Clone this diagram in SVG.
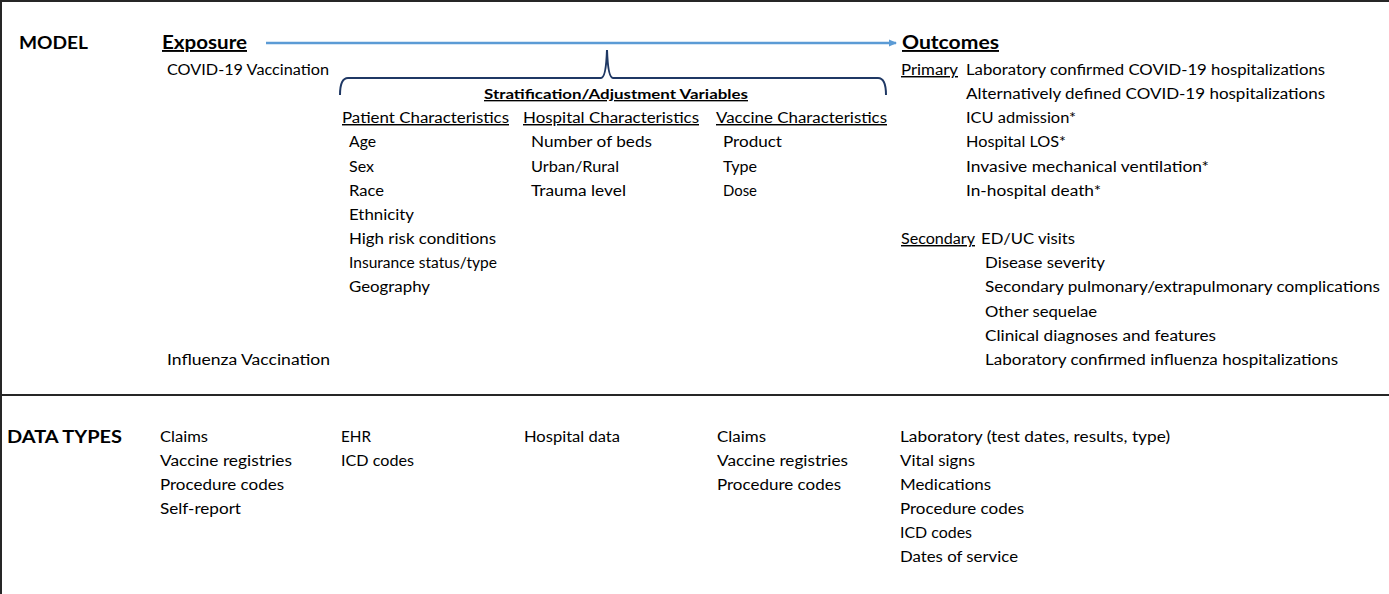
<svg xmlns="http://www.w3.org/2000/svg" width="1389" height="594" viewBox="0 0 1389 594">
<style>
text{font-family:Lato,"Liberation Sans",sans-serif;font-size:14.5px;fill:#000}
.h{font-weight:bold;font-size:16.5px}
.hh{font-weight:bold;font-size:19px;text-decoration:underline}
.u{text-decoration:underline}
.sb{font-weight:bold;font-size:13.5px;text-decoration:underline}
</style>
<defs>
<marker id="ah" markerWidth="10" markerHeight="10" refX="7" refY="4" orient="auto" markerUnits="userSpaceOnUse">
<path d="M0,0.5 L8,4 L0,7.5 Z" fill="#5B9BD5"/>
</marker>
</defs>
<rect width="1389" height="594" fill="#fff"/>
<g id="frame" stroke="#262626" stroke-width="2" fill="none">
<line x1="0" y1="1" x2="1389" y2="1"/>
<line x1="1" y1="0" x2="1" y2="594"/>
<line x1="0" y1="395" x2="1389" y2="395"/>
</g>
<g id="connectors">
<line x1="266" y1="43" x2="896" y2="43" stroke="#5B9BD5" stroke-width="2.5" marker-end="url(#ah)"/>
<path d="M340,95 Q340,78 348,78 L601,78 Q606,78 607,50 Q608,78 613,78 L878,78 Q886,78 886,95" fill="none" stroke="#1F3864" stroke-width="2"/>
</g>
<g id="model-label"><text class="h" x="19" y="49" textLength="69" lengthAdjust="spacingAndGlyphs">MODEL</text></g>
<g id="exposure">
<text class="hh" x="162" y="49" textLength="85" lengthAdjust="spacingAndGlyphs">Exposure</text>
<text x="167" y="75" textLength="162" lengthAdjust="spacingAndGlyphs">COVID-19 Vaccination</text>
<text x="167" y="365" textLength="163" lengthAdjust="spacingAndGlyphs">Influenza Vaccination</text>
</g>
<g id="stratification">
<text class="sb" x="484" y="99" textLength="264" lengthAdjust="spacingAndGlyphs">Stratification/Adjustment Variables</text>
</g>
<g id="patient">
<text class="u" x="342" y="123" textLength="167" lengthAdjust="spacingAndGlyphs">Patient Characteristics</text>
<text x="349" y="147" textLength="27" lengthAdjust="spacingAndGlyphs">Age</text>
<text x="349" y="172" textLength="25" lengthAdjust="spacingAndGlyphs">Sex</text>
<text x="349" y="196" textLength="35" lengthAdjust="spacingAndGlyphs">Race</text>
<text x="349" y="220" textLength="65" lengthAdjust="spacingAndGlyphs">Ethnicity</text>
<text x="349" y="244" textLength="147" lengthAdjust="spacingAndGlyphs">High risk conditions</text>
<text x="349" y="268" textLength="148" lengthAdjust="spacingAndGlyphs">Insurance status/type</text>
<text x="349" y="292" textLength="81" lengthAdjust="spacingAndGlyphs">Geography</text>
</g>
<g id="hospital">
<text class="u" x="523" y="123" textLength="176" lengthAdjust="spacingAndGlyphs">Hospital Characteristics</text>
<text x="531" y="147" textLength="121" lengthAdjust="spacingAndGlyphs">Number of beds</text>
<text x="531" y="172" textLength="88" lengthAdjust="spacingAndGlyphs">Urban/Rural</text>
<text x="531" y="196" textLength="95" lengthAdjust="spacingAndGlyphs">Trauma level</text>
</g>
<g id="vaccine">
<text class="u" x="716" y="123" textLength="171" lengthAdjust="spacingAndGlyphs">Vaccine Characteristics</text>
<text x="723" y="147" textLength="59" lengthAdjust="spacingAndGlyphs">Product</text>
<text x="723" y="172" textLength="34" lengthAdjust="spacingAndGlyphs">Type</text>
<text x="723" y="196" textLength="34" lengthAdjust="spacingAndGlyphs">Dose</text>
</g>
<g id="outcomes">
<text class="hh" x="902" y="49" textLength="97" lengthAdjust="spacingAndGlyphs">Outcomes</text>
<text class="u" x="901" y="75" textLength="57" lengthAdjust="spacingAndGlyphs">Primary</text>
<text x="966" y="75" textLength="359" lengthAdjust="spacingAndGlyphs">Laboratory confirmed COVID-19 hospitalizations</text>
<text x="966" y="99" textLength="359" lengthAdjust="spacingAndGlyphs">Alternatively defined COVID-19 hospitalizations</text>
<text x="966" y="123" textLength="110" lengthAdjust="spacingAndGlyphs">ICU admission*</text>
<text x="966" y="147" textLength="100" lengthAdjust="spacingAndGlyphs">Hospital LOS*</text>
<text x="966" y="172" textLength="243" lengthAdjust="spacingAndGlyphs">Invasive mechanical ventilation*</text>
<text x="966" y="196" textLength="135" lengthAdjust="spacingAndGlyphs">In-hospital death*</text>
<text class="u" x="901" y="244" textLength="74" lengthAdjust="spacingAndGlyphs">Secondary</text>
<text x="981" y="244" textLength="94" lengthAdjust="spacingAndGlyphs">ED/UC visits</text>
<text x="985" y="268" textLength="120" lengthAdjust="spacingAndGlyphs">Disease severity</text>
<text x="985" y="292" textLength="395" lengthAdjust="spacingAndGlyphs">Secondary pulmonary/extrapulmonary complications</text>
<text x="985" y="317" textLength="112" lengthAdjust="spacingAndGlyphs">Other sequelae</text>
<text x="985" y="341" textLength="231" lengthAdjust="spacingAndGlyphs">Clinical diagnoses and features</text>
<text x="985" y="365" textLength="353" lengthAdjust="spacingAndGlyphs">Laboratory confirmed influenza hospitalizations</text>
</g>
<g id="data-types-label"><text class="h" x="7" y="443" textLength="115" lengthAdjust="spacingAndGlyphs">DATA TYPES</text></g>
<g id="data-exposure">
<text x="160" y="442" textLength="48" lengthAdjust="spacingAndGlyphs">Claims</text>
<text x="160" y="466" textLength="132" lengthAdjust="spacingAndGlyphs">Vaccine registries</text>
<text x="160" y="490" textLength="124" lengthAdjust="spacingAndGlyphs">Procedure codes</text>
<text x="160" y="514" textLength="81" lengthAdjust="spacingAndGlyphs">Self-report</text>
</g>
<g id="data-patient">
<text x="341" y="442" textLength="30" lengthAdjust="spacingAndGlyphs">EHR</text>
<text x="341" y="466" textLength="73" lengthAdjust="spacingAndGlyphs">ICD codes</text>
</g>
<g id="data-hospital">
<text x="524" y="442" textLength="96" lengthAdjust="spacingAndGlyphs">Hospital data</text>
</g>
<g id="data-vaccine">
<text x="717" y="442" textLength="49" lengthAdjust="spacingAndGlyphs">Claims</text>
<text x="717" y="466" textLength="131" lengthAdjust="spacingAndGlyphs">Vaccine registries</text>
<text x="717" y="490" textLength="124" lengthAdjust="spacingAndGlyphs">Procedure codes</text>
</g>
<g id="data-outcomes">
<text x="900" y="442" textLength="270" lengthAdjust="spacingAndGlyphs">Laboratory (test dates, results, type)</text>
<text x="900" y="466" textLength="75" lengthAdjust="spacingAndGlyphs">Vital signs</text>
<text x="900" y="490" textLength="91" lengthAdjust="spacingAndGlyphs">Medications</text>
<text x="900" y="514" textLength="124" lengthAdjust="spacingAndGlyphs">Procedure codes</text>
<text x="900" y="538" textLength="72" lengthAdjust="spacingAndGlyphs">ICD codes</text>
<text x="900" y="562" textLength="118" lengthAdjust="spacingAndGlyphs">Dates of service</text>
</g>
</svg>
